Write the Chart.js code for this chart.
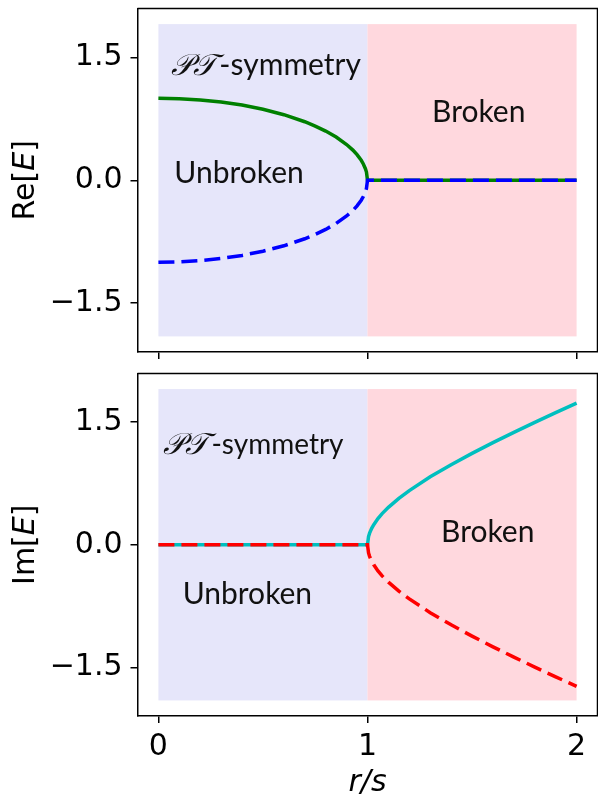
<!DOCTYPE html>
<html><head><meta charset="utf-8">
<script src="https://cdn.jsdelivr.net/npm/chart.js@4.4.0/dist/chart.umd.min.js"></script>
<style>
html,body{margin:0;padding:0;background:#fff;overflow:hidden}
#wrap{position:relative;width:598px;height:795px}
.box{position:absolute;left:0;width:598px}
</style></head><body>
<div id="wrap">
<div class="box" style="top:0;height:365px"><canvas id="c1"></canvas></div>
<div class="box" style="top:365px;height:430px"><canvas id="c2"></canvas></div>
</div>
<script>
// ---- data ----
const rTop = [0, 0.1, 0.2, 0.3, 0.4, 0.5, 0.6, 0.7, 0.75, 0.8, 0.85, 0.9, 0.93, 0.95, 0.97, 0.98, 0.99, 0.995, 1.0, 1.2, 1.4, 1.6, 1.8, 2.0];
const reUpper = [1.000, 0.995, 0.980, 0.954, 0.917, 0.866, 0.800, 0.714, 0.661, 0.600, 0.527, 0.436, 0.368, 0.312, 0.243, 0.199, 0.141, 0.100, 0, 0, 0, 0, 0, 0];
const reLower = [-1.000, -0.995, -0.980, -0.954, -0.917, -0.866, -0.800, -0.714, -0.661, -0.600, -0.527, -0.436, -0.368, -0.312, -0.243, -0.199, -0.141, -0.100, 0, 0, 0, 0, 0, 0];

const rBot = [0, 0.2, 0.4, 0.6, 0.8, 1.0, 1.005, 1.01, 1.02, 1.03, 1.05, 1.07, 1.1, 1.15, 1.2, 1.3, 1.4, 1.5, 1.6, 1.7, 1.8, 1.9, 2.0];
const imUpper = [0, 0, 0, 0, 0, 0, 0.100, 0.142, 0.201, 0.246, 0.320, 0.381, 0.458, 0.568, 0.663, 0.831, 0.980, 1.118, 1.249, 1.375, 1.497, 1.616, 1.732];
const imLower = [0, 0, 0, 0, 0, 0, -0.100, -0.142, -0.201, -0.246, -0.320, -0.381, -0.458, -0.568, -0.663, -0.831, -0.980, -1.118, -1.249, -1.375, -1.497, -1.616, -1.732];

const regionEdges = [0, 1, 2];          // unbroken: 0..1, broken: 1..2
const regionHalfHeight = 1.905;
const xLimits = [-0.1, 2.1];
const yLimits = [-2.0955, 2.0955];

const xTicks = [0, 1, 2];
const xTickLabels = ['0', '1', '2'];
const yTicks = [-1.5, 0, 1.5];
const yTickLabels = ['\u22121.5', '0.0', '1.5'];

// ---- helpers ----
const toXY = (xs, ys) => xs.map((x, i) => ({x: x, y: ys[i]}));
const TICK_FONT = {family: '"DejaVu Sans", sans-serif', size: 30};
const NOTE_FAMILY = 'Lato, "Open Sans", sans-serif';

const shadePlugin = {
  id: 'shade',
  beforeDatasetsDraw(chart) {
    const {ctx, scales: {x, y}} = chart;
    const yT = y.getPixelForValue(regionHalfHeight), yB = y.getPixelForValue(-regionHalfHeight);
    const cols = ['rgb(230,230,250)', 'rgb(255,216,222)'];
    ctx.save();
    for (let i = 0; i < regionEdges.length - 1; i++) {
      const x0 = x.getPixelForValue(regionEdges[i]), x1 = x.getPixelForValue(regionEdges[i + 1]);
      ctx.fillStyle = cols[i];
      ctx.fillRect(x0, yT, x1 - x0, yB - yT);
    }
    ctx.restore();
  }
};

const framePlugin = {
  id: 'frame',
  afterDraw(chart) {
    const {ctx, chartArea: a} = chart;
    ctx.save();
    ctx.strokeStyle = '#000';
    ctx.lineWidth = 1.5;
    ctx.beginPath();
    ctx.moveTo(a.left, a.top); ctx.lineTo(a.right, a.top); ctx.lineTo(a.right, a.bottom);
    ctx.stroke();
    ctx.restore();
  }
};

function drawMixed(ctx, parts, x, y) {
  let cx = x;
  for (const p of parts) {
    ctx.font = p.font;
    ctx.fillText(p.t, cx, y);
    cx += ctx.measureText(p.t).width + (p.gap || 0);
  }
  return cx - x;
}
function mixedWidth(ctx, parts) {
  let w = 0;
  for (const p of parts) { ctx.font = p.font; w += ctx.measureText(p.t).width + (p.gap || 0); }
  return w;
}

function notesPlugin(notes, yLabelParts, xTitle) {
  return {
    id: 'notes',
    afterDraw(chart) {
      const {ctx, scales: {x, y}} = chart;
      ctx.save();
      ctx.fillStyle = '#111';
      ctx.textBaseline = 'alphabetic';
      ctx.textAlign = 'left';
      for (const n of notes) {
        drawMixed(ctx, n.parts, x.getPixelForValue(n.x), y.getPixelForValue(n.y));
      }
      // y axis label (rotated)
      ctx.fillStyle = '#000';
      const w = mixedWidth(ctx, yLabelParts);
      ctx.save();
      ctx.translate(33.5, y.getPixelForValue(0));
      ctx.rotate(-Math.PI / 2);
      drawMixed(ctx, yLabelParts, -w / 2, 0);
      ctx.restore();
      if (xTitle) {
        const tw = mixedWidth(ctx, xTitle);
        drawMixed(ctx, xTitle, x.getPixelForValue(1) - tw / 2, chart.height - 4);
      }
      ctx.restore();
    }
  };
}

function makeChart(id, datasets, opt) {
  return new Chart(document.getElementById(id), {
    type: 'scatter',
    data: {datasets: datasets},
    options: {
      responsive: true, maintainAspectRatio: false, animation: false, devicePixelRatio: 1,
      layout: {padding: {top: 8.5, right: 0.5, left: 0, bottom: 0}},
      plugins: {legend: {display: false}, tooltip: {enabled: false}},
      elements: {point: {radius: 0}, line: {tension: 0, borderCapStyle: 'butt'}},
      scales: {
        x: {
          type: 'linear', min: xLimits[0], max: xLimits[1],
          afterBuildTicks: s => { s.ticks = xTicks.map(v => ({value: v})); },
          ticks: {
            autoSkip: false, maxRotation: 0, font: TICK_FONT, color: '#000', padding: opt.xPad,
            callback: v => opt.showX ? xTickLabels[xTicks.indexOf(v)] : ''
          },
          grid: {drawOnChartArea: false, drawTicks: true, tickLength: 7, color: '#000', lineWidth: 1.5},
          border: {display: true, color: '#000', width: 1.5},
          afterFit: s => { s.height = opt.xAxisH; s.paddingLeft = 0; s.paddingRight = 0; }
        },
        y: {
          type: 'linear', min: yLimits[0], max: yLimits[1],
          afterBuildTicks: s => { s.ticks = yTicks.map(v => ({value: v})); },
          ticks: {
            autoSkip: false, font: TICK_FONT, color: '#000', padding: 8,
            callback: v => yTickLabels[yTicks.indexOf(v)]
          },
          grid: {drawOnChartArea: false, drawTicks: true, tickLength: 7, color: '#000', lineWidth: 1.5},
          border: {display: true, color: '#000', width: 1.5},
          afterFit: s => { s.width = 137.5; s.paddingTop = 0; s.paddingBottom = 0; }
        }
      }
    },
    plugins: [shadePlugin, framePlugin, notesPlugin(opt.notes, opt.yLabel, opt.xTitle)]
  });
}

const calFont = 'italic 30px "DejaVu Serif"';
const pt = (size) => [
  {t: '\u{1D4AB}\u{1D4AF}', font: calFont, gap: 3},
  {t: '-symmetry', font: size + 'px ' + NOTE_FAMILY}
];
const noteF = (s) => s + 'px ' + NOTE_FAMILY;

makeChart('c1', [
  {data: toXY(rTop, reLower), borderColor: 'rgb(0,0,255)', borderWidth: 3.5, borderDash: [16, 7], showLine: true},
  {data: toXY(rTop, reUpper), borderColor: 'rgb(0,128,0)', borderWidth: 3.5, showLine: true}
], {
  showX: false, xPad: 4, xAxisH: 365 - 352,
  notes: [
    {parts: pt(30), x: 0.062, y: 1.284},
    {parts: [{t: 'Broken', font: noteF(30)}], x: 1.309, y: 0.714},
    {parts: [{t: 'Unbroken', font: noteF(30)}], x: 0.076, y: -0.037}
  ],
  yLabel: [{t: 'Re[', font: '30px "DejaVu Sans"'}, {t: 'E', font: 'italic 30px "DejaVu Sans"'}, {t: ']', font: '30px "DejaVu Sans"'}]
});

makeChart('c2', [
  {data: toXY(rBot, imLower), borderColor: 'rgb(255,0,0)', borderWidth: 3.5, borderDash: [16, 7], showLine: true},
  {data: toXY(rBot, imUpper), borderColor: 'rgb(0,191,191)', borderWidth: 3.5, showLine: true}
], {
  showX: true, xPad: 6, xAxisH: 430 - 351,
  notes: [
    {parts: pt(28), x: 0.024, y: 1.106},
    {parts: [{t: 'Broken', font: noteF(30)}], x: 1.352, y: 0.03},
    {parts: [{t: 'Unbroken', font: noteF(30)}], x: 0.116, y: -0.72}
  ],
  yLabel: [{t: 'Im[', font: '30px "DejaVu Sans"'}, {t: 'E', font: 'italic 30px "DejaVu Sans"'}, {t: ']', font: '30px "DejaVu Sans"'}],
  xTitle: [{t: 'r/s', font: 'italic 30px "DejaVu Sans"'}]
});
</script>
</body></html>
